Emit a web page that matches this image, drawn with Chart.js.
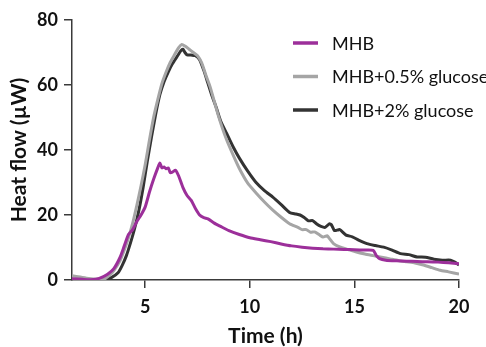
<!DOCTYPE html>
<html>
<head>
<meta charset="utf-8">
<script src="https://cdn.jsdelivr.net/npm/chart.js@4/dist/chart.umd.min.js"></script>
<style>
  html, body { margin: 0; padding: 0; background: #fff; }
  #wrap { width: 486px; height: 347px; }
</style>
</head>
<body>
<div id="wrap"><canvas id="heat-chart" width="486" height="347"></canvas></div>
<script>
// Series labels
const seriesLabels = ['MHB', 'MHB+0.5% glucose', 'MHB+2% glucose'];

// MHB
const mhbTime = [1.5, 2.0, 2.4, 2.8, 3.2, 3.5, 3.8, 4.0, 4.2, 4.4, 4.6, 4.8, 5.0, 5.2, 5.4, 5.6, 5.7, 5.8, 5.9, 6.0,
    6.1, 6.2, 6.3, 6.45, 6.6, 6.8, 7.0, 7.2, 7.4, 7.6, 7.8, 8.0, 8.3, 8.6, 9.0, 9.5, 10, 10.5, 11, 11.5,
    12, 12.5, 13, 13.5, 14, 14.5, 15, 15.5, 15.9, 16.05, 16.2, 16.5, 17, 17.5, 18, 18.5, 19, 19.5, 20];
const mhbFlow = [0.4, 0.2, 0.1, 0.5, 1.8, 3.5, 7, 10.5, 14, 15.5, 18, 20, 22.5, 27, 31, 34.5, 36, 34.5, 34.8, 34.2,
    34.5, 33, 33.2, 33.8, 32, 28.5, 26, 24.5, 22, 20, 19.2, 18.8, 17.5, 16.5, 15.2, 14, 13, 12.4, 11.8, 11.1,
    10.5, 10.1, 9.8, 9.6, 9.5, 9.4, 9.3, 9.2, 9.1, 7.5, 6.6, 6.1, 5.9, 5.8, 5.7, 5.6, 5.5, 5.3, 5.0];

// MHB + 0.5% glucose
const lowGlcTime = [1.5, 1.9, 2.3, 2.7, 3.0, 3.3, 3.5, 3.8, 4.0, 4.2, 4.4, 4.6, 4.8, 5.0, 5.2, 5.4, 5.6, 5.8, 6.0, 6.2,
    6.4, 6.6, 6.75, 6.9, 7.1, 7.3, 7.5, 7.7, 7.9, 8.1, 8.3, 8.5, 8.7, 8.9, 9.2, 9.5, 9.9, 10.3, 10.7, 11.1,
    11.5, 11.9, 12.3, 12.5, 12.7, 12.9, 13.1, 13.35, 13.5, 13.7, 13.8, 14.0, 14.3, 14.7, 15.1, 15.5, 15.9, 16.3, 16.7, 17.1,
    17.5, 17.9, 18.3, 18.7, 19.1, 19.5, 20];
const lowGlcFlow = [1.3, 0.9, 0.5, 0.2, 0.1, 1.5, 2.9, 6, 9.2, 13, 17.5, 23, 29, 35.5, 43, 50, 55.5, 60.5, 64, 67,
    69.3, 71.5, 72.5, 72, 71, 70, 69, 66.8, 63, 59.5, 55, 50.5, 46.5, 43, 38.5, 34.3, 29.8, 26.8, 24, 21.5,
    19.3, 17.3, 16.2, 15.5, 15.5, 14.7, 14.8, 13.8, 13.2, 13.6, 12.8, 11.2, 10.2, 9.4, 8.6, 8.0, 7.5, 7.0, 6.5, 6.0,
    5.6, 5.2, 4.6, 3.8, 3.0, 2.5, 1.8];

// MHB + 2% glucose
const highGlcTime = [2.6, 3.1, 3.4, 3.7, 3.9, 4.1, 4.3, 4.5, 4.7, 4.9, 5.1, 5.3, 5.5, 5.7, 5.9, 6.1, 6.3, 6.5, 6.7, 6.8,
    6.9, 7.0, 7.2, 7.4, 7.6, 7.8, 8.0, 8.2, 8.4, 8.6, 8.9, 9.2, 9.5, 9.9, 10.3, 10.7, 11.1, 11.5, 11.9, 12.2,
    12.4, 12.6, 12.8, 13.0, 13.2, 13.4, 13.6, 13.8, 13.9, 14.05, 14.3, 14.6, 14.9, 15.2, 15.6, 16.0, 16.4, 16.8, 17.2, 17.6,
    18.0, 18.4, 18.8, 19.2, 19.6, 19.8, 20];
const highGlcFlow = [0, 0.1, 0.8, 2.2, 4.5, 7.5, 11.5, 16, 21.5, 28.5, 36.5, 44, 51, 57, 61, 64, 66.5, 68.5, 70.5, 71,
    70, 69.3, 69.2, 69, 67.8, 64.5, 60.5, 56.5, 53, 49, 45, 41, 37.5, 33.5, 30, 27.5, 25.5, 23.2, 20.8, 20.3,
    20, 19.2, 18.2, 18.3, 17.2, 16.5, 16.2, 17.3, 17.0, 15.2, 15.5, 13.8, 13.3, 12.3, 11.2, 10.6, 10.1, 9.2, 8.1, 7.8,
    7.1, 7.0, 6.4, 6.1, 6.1, 5.5, 4.6];

// Axis ticks
const xTicks = [5, 10, 15, 20];
const yTicks = [0, 20, 40, 60, 80];

const colors = ['#9c2f9a', '#a5a5a5', '#333333'];
const fontFamily = 'Lato, "Open Sans", sans-serif';
const axisColor = '#3a3a3a';

function toPoints(xs, ys) {
    return xs.map((x, i) => ({ x: x, y: ys[i] }));
}

// Legend drawn inside the plot, line sample + label
const insideLegend = {
    id: 'insideLegend',
    afterDraw(chart) {
        const ctx = chart.ctx;
        ctx.save();
        ctx.font = '18px ' + fontFamily;
        ctx.textBaseline = 'middle';
        ctx.fillStyle = '#111';
        chart.data.datasets.forEach((ds, i) => {
            const y = 43 + i * 33.5;
            ctx.strokeStyle = ds.borderColor;
            ctx.lineWidth = 3.5;
            ctx.beginPath();
            ctx.moveTo(293, y);
            ctx.lineTo(318, y);
            ctx.stroke();
            ctx.fillText(ds.label, 332, y + 1);
        });
        ctx.restore();
    }
};

const datasets = [
    { data: toPoints(mhbTime, mhbFlow) },
    { data: toPoints(lowGlcTime, lowGlcFlow) },
    { data: toPoints(highGlcTime, highGlcFlow) }
].map((d, i) => Object.assign(d, {
    label: seriesLabels[i],
    borderColor: colors[i],
    backgroundColor: colors[i],
    borderWidth: 3,
    pointRadius: 0,
    tension: 0.2,
    fill: false
}));

new Chart(document.getElementById('heat-chart'), {
    type: 'line',
    data: { datasets: datasets },
    options: {
        responsive: false,
        animation: false,
        layout: { padding: { top: 20, right: 27, bottom: 0, left: 0 } },
        plugins: {
            legend: { display: false },
            tooltip: { enabled: false }
        },
        scales: {
            x: {
                type: 'linear',
                min: 1.5,
                max: 20,
                afterBuildTicks: s => { s.ticks = xTicks.map(v => ({ value: v })); },
                afterFit: s => { s.height = 67; },
                grid: { drawOnChartArea: false, tickLength: 8, color: axisColor, lineWidth: 1.5 },
                border: { color: axisColor, width: 1.5 },
                ticks: {
                    color: '#111',
                    padding: 8,
                    maxRotation: 0,
                    font: { family: fontFamily, size: 18, weight: 'bold' }
                },
                title: {
                    display: true,
                    text: 'Time (h)',
                    color: '#111',
                    padding: { top: 0, bottom: 0 },
                    font: { family: fontFamily, size: 21, weight: 'bold', lineHeight: 1.0 }
                }
            },
            y: {
                min: 0,
                max: 80,
                afterBuildTicks: s => { s.ticks = yTicks.map(v => ({ value: v })); },
                afterFit: s => { s.width = 72; },
                grid: { drawOnChartArea: false, tickLength: 8, color: axisColor, lineWidth: 1.5 },
                border: { color: axisColor, width: 1.5 },
                ticks: {
                    color: '#111',
                    padding: 6,
                    font: { family: fontFamily, size: 18, weight: 'bold' }
                },
                title: {
                    display: true,
                    text: 'Heat flow (µW)',
                    color: '#111',
                    padding: { top: 9, bottom: 0 },
                    font: { family: fontFamily, size: 21, weight: 'bold', lineHeight: 1.0 }
                }
            }
        }
    },
    plugins: [insideLegend]
});
</script>
</body>
</html>
